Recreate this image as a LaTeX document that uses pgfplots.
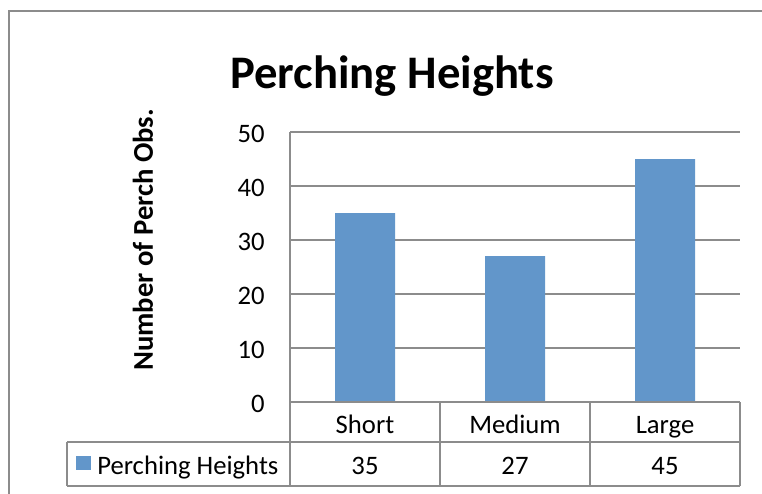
\documentclass[border=0pt]{standalone}
\usepackage{pgfplots}
\pgfplotsset{compat=1.18}
\usepackage{fontspec}
\setmainfont{Carlito}
\definecolor{barblue}{RGB}{98,150,202}
\definecolor{linegray}{RGB}{140,140,140}
\newcommand{\tickfont}{\fontsize{20}{24}\selectfont}

\begin{document}
\begin{tikzpicture}[x=0.75pt,y=0.75pt]
\useasboundingbox (0,0) rectangle (762,-493);
\clip (0,0) rectangle (762,-493);
% chart frame (right and bottom edges are cut off)
\draw[linegray, line width=1.5pt] (9,-520) -- (9,-11) -- (790,-11);

% title
\node[anchor=base, font=\fontsize{35}{40}\selectfont\bfseries] at (392,-88) {Perching Heights};
% y axis title
\node[rotate=90, font=\fontsize{21.5}{26}\selectfont\bfseries] at (143,-240) {Number of Perch Obs.};

\begin{axis}[
	at={(217.5pt,-301.5pt)}, anchor=south west,
	scale only axis, width=337.5pt, height=202.5pt,
	xmin=-0.5, xmax=2.5, ymin=0, ymax=50,
	ytick={0,10,...,50},
	xtick={0,1,2}, xticklabels={Short,Medium,Large},
	axis line style={draw=none},
	major tick length=0pt,
	ymajorgrids,
	major grid style={linegray, line width=1.5pt},
	tick label style={font=\tickfont},
	yticklabel style={anchor=east, inner sep=0pt, xshift=-18.75pt, yshift=-1.5pt},
	xticklabel style={anchor=base, inner sep=0pt, yshift=-23.5pt},
	/pgf/number format/assume math mode=true,
	clip=false
]
\addplot[ybar, bar width=45pt, fill=barblue, draw=none] coordinates {(0,35) (1,27) (2,45)};
\end{axis}

% data table
\draw[linegray, line width=1.5pt] (290,-132) -- (290,-486);
\draw[linegray, line width=1.5pt] (290,-402) -- (740,-402);
\draw[linegray, line width=1.5pt] (67,-442) -- (740,-442);
\draw[linegray, line width=1.5pt] (67,-486) -- (740,-486);
\draw[linegray, line width=1.5pt] (67,-442) -- (67,-486);
\foreach \xx in {440,590,740} \draw[linegray, line width=1.5pt] (\xx,-402) -- (\xx,-486);
\fill[barblue] (76,-456) rectangle (91,-470);
\node[anchor=base west, inner sep=0pt, font=\tickfont] at (97,-474) {Perching Heights};
\node[anchor=base, font=\tickfont] at (365,-474) {35};
\node[anchor=base, font=\tickfont] at (515,-474) {27};
\node[anchor=base, font=\tickfont] at (665,-474) {45};
\end{tikzpicture}
\end{document}
